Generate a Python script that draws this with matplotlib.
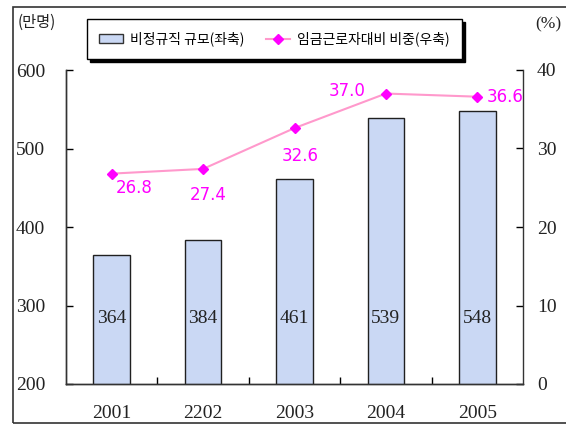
import matplotlib
matplotlib.use("Agg")
import matplotlib.pyplot as plt
from matplotlib.patches import Rectangle, Patch
from matplotlib.lines import Line2D

# data
years = ["2001", "2202", "2003", "2004", "2005"]
size_10k = [364, 384, 461, 539, 548]
share_pct = [26.8, 27.4, 32.6, 37.0, 36.6]

bar_label = "비정규직 규모(좌축)"
line_label = "임금근로자대비 비중(우축)"

kr = ["Noto Sans CJK KR", "DejaVu Sans"]
serif = "Liberation Serif"

bar_color = "#cad8f4"
line_color = "#ff99cc"
mark_color = "#ff00ff"

fig = plt.figure(figsize=(5.66, 4.25), dpi=100)
ax = fig.add_axes([66 / 566, 1 - 384 / 425, (523 - 66) / 566, (384 - 70) / 425])
ax2 = ax.twinx()

x = list(range(len(years)))
ax.bar(x, size_10k, width=0.4, color=bar_color, edgecolor="#202020", linewidth=1.0, zorder=2)
for xi, v in zip(x, size_10k):
    ax.text(xi, 284, str(v), ha="center", va="center", fontsize=14, family=serif, color="#222222", zorder=3)

ax.set_ylim(200, 600)
ax.set_yticks([200, 300, 400, 500, 600])
ax.set_xlim(-0.5, len(years) - 0.5)
ax.set_xticks(x)
ax.set_xticklabels(years)
ax.set_xticks([i + 0.5 for i in x[:-1]], minor=True)
ax.tick_params(axis="x", which="major", length=0, pad=15)
ax.tick_params(axis="x", which="minor", direction="in", length=5, width=1)
ax.tick_params(axis="y", direction="in", length=5, width=1, pad=15)
for lab in ax.get_xticklabels() + ax.get_yticklabels():
    lab.set_family(serif)
    lab.set_fontsize(14)
    lab.set_color("#222222")

ax2.plot(x, share_pct, color=line_color, linewidth=1.5, marker="D", markersize=5,
         markerfacecolor=mark_color, markeredgecolor=mark_color, zorder=4)
ax2.set_ylim(0, 40)
ax2.set_yticks([0, 10, 20, 30, 40])
ax2.tick_params(axis="y", direction="in", length=5, width=1, pad=10)
for lab in ax2.get_yticklabels():
    lab.set_family(serif)
    lab.set_fontsize(14)
    lab.set_color("#222222")

offsets = [(16, -10), (4, -19), (4, -20), (-28, 2), (20, 0)]
for xi, v, off in zip(x, share_pct, offsets):
    ax2.annotate(f"{v:.1f}", (xi, v), xytext=off, textcoords="offset points",
                 ha="center", va="center", fontsize=12, color=mark_color, family="DejaVu Sans")

for a in (ax, ax2):
    a.spines["top"].set_visible(False)
    for s in ("left", "right", "bottom"):
        a.spines[s].set_color("#333333")
        a.spines[s].set_linewidth(1.0)
ax.spines["right"].set_visible(False)

handles = [Patch(facecolor=bar_color, edgecolor="#333333", linewidth=1.0),
           Line2D([0], [0], color=line_color, linewidth=1.5, marker="D", markersize=5,
                  markerfacecolor=mark_color, markeredgecolor=mark_color)]
leg = fig.legend(handles, [bar_label, line_label], ncol=2, loc="center",
                 bbox_to_anchor=((88 + 461) / 2 / 566, 1 - 39 / 425),
                 prop={"family": kr, "size": 10}, frameon=True, fancybox=False,
                 edgecolor="black", shadow={"color": "black", "alpha": 1.0},
                 handlelength=1.7, handletextpad=0.5, columnspacing=1.6, borderpad=0.9)
leg.get_frame().set_linewidth(1.0)

fig.text(18 / 566, 1 - 22 / 425, "(만명)", family=kr, fontsize=11, ha="left", va="center", color="#222222")
fig.text(535 / 566, 1 - 24 / 425, "(%)", family=serif, fontsize=12.5, ha="left", va="center", color="#222222")

# outer frame
fig.add_artist(Rectangle((13 / 566, 2 / 425), 1.0, 416 / 425, transform=fig.transFigure,
                         fill=False, edgecolor="#333333", linewidth=1.2))

fig.savefig("out.png", dpi=100)
